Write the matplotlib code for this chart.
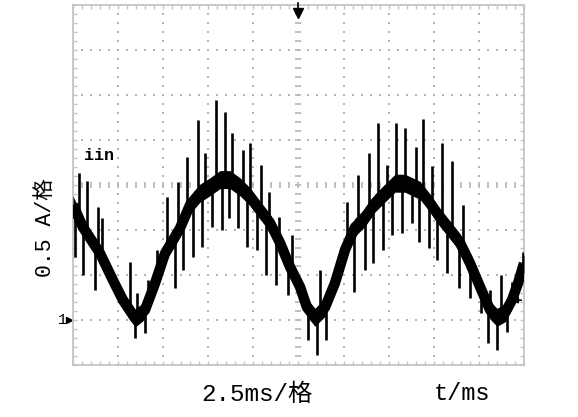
import numpy as np
import matplotlib

matplotlib.use("Agg")
import matplotlib.pyplot as plt  # noqa: E402
from matplotlib.ticker import MultipleLocator  # noqa: E402

# oscilloscope trace of input current, 2.5 ms/div, 0.5 A/div, ground at 1 div
TRACE_T = [0.00, 0.55, 1.50, 2.22, 2.77, 3.44, 3.99, 4.55, 5.10, 5.93,
           6.49, 7.04, 7.59, 8.15, 8.70, 9.26, 9.81, 10.37, 10.92, 11.47,
           12.03, 12.58, 12.97, 13.41, 13.97, 14.52, 15.08, 15.63, 16.19, 16.74,
           17.29, 17.85, 18.40, 19.24, 19.79, 20.34, 20.90, 21.45, 22.01, 22.56,
           23.12, 23.50, 23.95, 24.33, 24.67, 25.00]
TRACE_I = [1.28, 1.03, 0.74, 0.44, 0.22, 0.02, 0.11, 0.41, 0.74, 1.02,
           1.28, 1.41, 1.48, 1.56, 1.56, 1.48, 1.37, 1.22, 1.08, 0.86,
           0.59, 0.37, 0.14, 0.03, 0.14, 0.41, 0.78, 1.03, 1.14, 1.30,
           1.41, 1.52, 1.52, 1.44, 1.30, 1.14, 1.00, 0.86, 0.63, 0.37,
           0.11, 0.03, 0.08, 0.22, 0.41, 0.63]

# switching spikes: time and far end of each spike (other end sits on the trace)
SPIKE_T = [0.11, 0.33, 0.55, 0.78, 1.22, 1.39, 1.61, 3.16, 3.44, 3.55,
           3.99, 4.16, 4.66, 5.21, 5.65, 5.82, 6.10, 6.32, 6.65, 6.93,
           7.15, 7.32, 7.71, 7.93, 8.26, 8.43, 8.65, 8.81, 9.15, 9.42,
           9.65, 9.81, 10.20, 10.42, 10.70, 10.86, 11.25, 11.42, 11.92, 12.14,
           13.03, 13.53, 13.69, 14.02, 15.19, 15.58, 15.80, 16.19, 16.41, 16.63,
           16.91, 17.18, 17.41, 17.68, 17.90, 18.24, 18.40, 18.79, 19.01, 19.18,
           19.40, 19.73, 19.90, 20.18, 20.45, 20.73, 21.01, 21.40, 21.62, 22.01,
           22.62, 23.00, 23.12, 23.50, 23.73, 24.06, 24.33, 24.95]
SPIKE_I = [0.70, 1.63, 0.50, 1.54, 0.33, 1.26, 1.13, 0.64, -0.20, 0.30,
           -0.14, 0.44, 0.78, 1.37, 0.36, 1.53, 0.56, 1.81, 0.70, 2.22,
           0.81, 1.86, 1.03, 2.44, 1.00, 2.31, 1.13, 2.08, 1.02, 1.89,
           0.81, 1.97, 0.78, 1.72, 0.50, 1.42, 0.39, 1.14, 0.28, 0.94,
           -0.22, -0.39, 0.56, -0.22, 1.31, 0.31, 1.61, 0.56, 1.86, 0.63,
           2.19, 0.78, 1.72, 0.94, 2.19, 0.97, 2.13, 1.08, 1.92, 0.87,
           2.23, 0.80, 1.71, 0.67, 1.97, 0.52, 1.77, 0.36, 1.28, 0.24,
           0.08, -0.26, 0.33, -0.33, 0.50, -0.13, 0.42, 0.76]

T_MAX = 25.0      # 10 div x 2.5 ms
I_MIN, I_MAX = -0.5, 3.5   # 8 div x 0.5 A
T_DIV, I_DIV = 2.5, 0.5

GRID_C = "#b4b4b4"
FONT = ["Liberation Mono", "Noto Sans CJK SC", "DejaVu Sans"]

fig = plt.figure(figsize=(5.78, 4.17), dpi=100)
ax = fig.add_axes([73 / 578, 52 / 417, 451 / 578, 360 / 417])
ax.set_xlim(0, T_MAX)
ax.set_ylim(I_MIN, I_MAX)

# dotted graticule
t_center = T_MAX / 2
i_center = (I_MIN + I_MAX) / 2
ys = np.arange(I_MIN, I_MAX + 1e-6, I_DIV / 5)
xs = np.arange(0, T_MAX + 1e-6, T_DIV / 5)
for tv in np.arange(T_DIV, T_MAX, T_DIV):
    if abs(tv - t_center) < 1e-6:
        ax.scatter(np.full_like(ys, tv), ys, marker="_", s=14, color=GRID_C, lw=1.2, zorder=1)
    else:
        ax.scatter(np.full_like(ys, tv), ys, marker="s", s=2.2, color=GRID_C, lw=0, zorder=1)
for iv in np.arange(I_MIN + I_DIV, I_MAX, I_DIV):
    if abs(iv - i_center) < 1e-6:
        ax.scatter(xs, np.full_like(xs, iv), marker="|", s=14, color=GRID_C, lw=1.2, zorder=1)
    else:
        ax.scatter(xs, np.full_like(xs, iv), marker="s", s=2.2, color=GRID_C, lw=0, zorder=1)

# frame with small inward ticks on every side
for sp in ax.spines.values():
    sp.set_color("#c4c4c4")
    sp.set_linewidth(1.3)
ax.xaxis.set_major_locator(MultipleLocator(T_DIV))
ax.xaxis.set_minor_locator(MultipleLocator(T_DIV / 5))
ax.yaxis.set_major_locator(MultipleLocator(I_DIV))
ax.yaxis.set_minor_locator(MultipleLocator(I_DIV / 5))
ax.tick_params(which="both", direction="in", top=True, right=True, length=3,
               width=1, color="#c4c4c4", labelbottom=False, labelleft=False)

# trace: thick noisy band plus spikes
t = np.array(TRACE_T)
i = np.array(TRACE_I)
ax.fill_between(t, i - 0.1, i + 0.1, color="black", lw=0, zorder=3)
ax.plot(t, i, color="black", lw=7.5, solid_capstyle="butt", zorder=3)
st = np.array(SPIKE_T)
ax.vlines(st, np.interp(st, t, i), SPIKE_I, color="black", lw=1.9, zorder=3)

# scope markers
ax.plot([t_center], [I_MAX - 0.09], marker="v", ms=7, color="black", clip_on=False, zorder=5)
ax.plot([t_center, t_center], [I_MAX - 0.09, I_MAX + 0.02], color="black", lw=1.2, clip_on=False, zorder=5)
ax.annotate("", xy=(24.15, 0.22), xytext=(25.0, 0.22),
            arrowprops=dict(arrowstyle="-|>", color="black", lw=1.2, mutation_scale=9), zorder=5)
ax.text(-0.35, 0.0, "1", ha="right", va="center", fontsize=11, family=FONT)
ax.plot([-0.2], [0.0], marker=">", ms=4.5, color="black", clip_on=False)

ax.text(0.6, 1.83, "iin", ha="left", va="center", fontsize=12, fontweight="bold", family=FONT)

fig.text(45 / 578, 1 - 228 / 417, "0.5 A/格", rotation=90, ha="center", va="center",
         fontsize=15.5, family=FONT)
fig.text(257 / 578, 1 - 394 / 417, "2.5ms/格", ha="center", va="center",
         fontsize=17.5, family=FONT)
fig.text(462 / 578, 1 - 393 / 417, "t/ms", ha="center", va="center",
         fontsize=17, family=FONT)

fig.savefig("out.png", dpi=100, facecolor="white")
